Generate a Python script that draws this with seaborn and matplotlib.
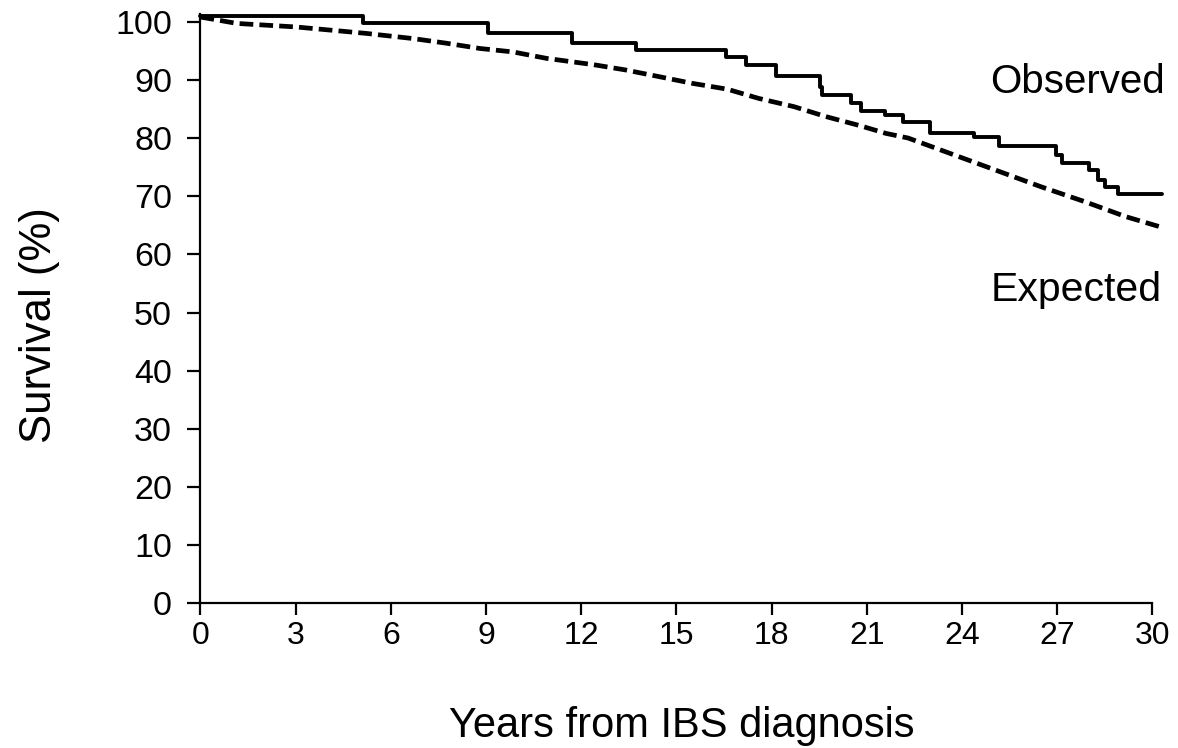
import matplotlib
matplotlib.use("Agg")
import matplotlib.pyplot as plt
import seaborn as sns
import pandas as pd

# Observed survival (Kaplan-Meier style step curve)
obs_years = [0, 5.13, 9.07, 11.72, 13.72, 16.57, 17.2, 18.15, 19.51, 19.6, 20.51,
             20.83, 21.56, 22.13, 22.98, 24.39, 25.18, 26.97, 27.15, 28.0, 28.3,
             28.5, 28.9, 30.3]
obs_surv = [100.9, 99.8, 98.1, 96.3, 95.1, 93.9, 92.6, 90.7, 88.7, 87.4, 86.0,
            84.7, 84.0, 82.8, 80.9, 80.1, 78.6, 77.1, 75.7, 74.5, 72.8,
            71.6, 70.4, 70.4]

# Expected survival
exp_years = [0, 1.15, 3.0, 4.2, 5.2, 6.7, 7.75, 8.8, 9.85, 10.9, 12.4, 13.4, 14.5,
             15.5, 16.6, 17.6, 18.7, 19.7, 20.8, 21.6, 22.3, 23.9, 25.2, 26.5,
             27.9, 29.15, 30.2]
exp_surv = [100.8, 99.7, 99.1, 98.5, 98.0, 97.1, 96.3, 95.4, 94.8, 93.7, 92.6, 91.7,
            90.5, 89.4, 88.4, 86.8, 85.4, 83.7, 82.1, 80.8, 80.0, 76.8, 74.2, 71.6,
            69.0, 66.5, 64.8]

x_ticks = [0, 3, 6, 9, 12, 15, 18, 21, 24, 27, 30]
y_ticks = [0, 10, 20, 30, 40, 50, 60, 70, 80, 90, 100]

sns.set_style("ticks")
plt.rcParams["font.family"] = ["Liberation Sans", "DejaVu Sans"]
plt.rcParams["text.color"] = "black"
plt.rcParams["axes.labelcolor"] = "black"

fig = plt.figure(figsize=(11.78, 7.48), dpi=100)
ax = fig.add_axes([0.1702, 0.1934, 0.8175, 0.7877])

obs_df = pd.DataFrame({"years": obs_years, "survival": obs_surv})
exp_df = pd.DataFrame({"years": exp_years, "survival": exp_surv})

sns.lineplot(data=obs_df, x="years", y="survival", ax=ax, color="black",
             linewidth=2.8, drawstyle="steps-post", estimator=None, clip_on=False)
sns.lineplot(data=exp_df, x="years", y="survival", ax=ax, color="black",
             linewidth=3.4, estimator=None, clip_on=False, dashes=False,
             linestyle=(0, (2.9, 1.3)))

ax.set_xlim(0, 30.35)
ax.set_ylim(0, 101.3)
ax.spines["bottom"].set_bounds(0, 30)
ax.spines["top"].set_visible(False)
ax.spines["right"].set_visible(False)
for s in ("left", "bottom"):
    ax.spines[s].set_linewidth(1.6)
    ax.spines[s].set_color("black")

ax.set_xticks(x_ticks)
ax.set_yticks(y_ticks)
ax.tick_params(axis="both", direction="out", width=1.6, color="black",
               labelcolor="black")
ax.tick_params(axis="y", length=9.5, pad=11, labelsize=24.5)
ax.tick_params(axis="x", length=8.5, pad=4, labelsize=23)

ax.set_xlabel("Years from IBS diagnosis", fontsize=30, labelpad=40)
ax.set_ylabel("Survival (%)", fontsize=31.5)
ax.yaxis.set_label_coords(-0.146, 0.472)

ax.text(30.4, 89.6, "Observed", fontsize=29, ha="right", va="center")
ax.text(30.3, 53.9, "Expected", fontsize=29.5, ha="right", va="center")

fig.savefig("out.png", dpi=100)
